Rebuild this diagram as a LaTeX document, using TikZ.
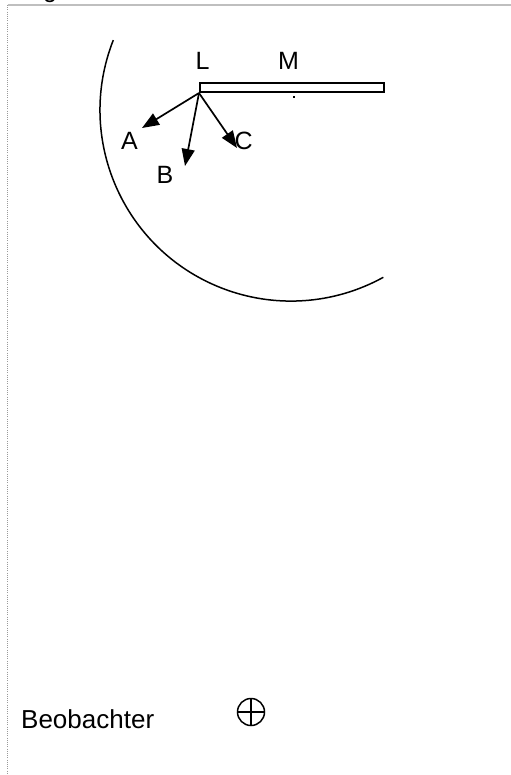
\documentclass[tikz,border=0pt]{standalone}
\usepackage{fontspec}
\setmainfont{Liberation Sans}
\usetikzlibrary{arrows.meta}
\tikzset{
  lbl/.style={inner sep=0pt, anchor=base west, font=\fontsize{25bp}{30bp}\selectfont},
  vec/.style={line width=1.7bp, -{Triangle[length=17bp,width=13bp]}},
  frameline/.style={draw=black!25, line width=1.3bp},
  dotline/.style={draw=black!40, line width=1bp, dash pattern=on 1bp off 1.2bp},
}
\begin{document}
\begin{tikzpicture}[x=1bp,y=-1bp]
\useasboundingbox (0,0) rectangle (511,775);
% frame lines
\coordinate (tl) at (7.5,5);
\coordinate (tr) at (511,5);
\coordinate (bl) at (7.5,775);
\draw[frameline] (tl) -- (tr);
\draw[dotline] (tl) -- (bl);
% cut-off caption
\node[lbl] (fig) at (22,-2.2) {Fig.};
% circle arc
\draw[line width=1.5bp] (113.3,40.1) arc[start angle=201.5, end angle=61.1, radius=191];
% bar
\node[draw, line width=1.8bp, minimum width=184bp, minimum height=9bp, inner sep=0pt, anchor=south west] (bar) at (199,93) {};
\fill (292.5,95.5) rectangle (294.5,97.5);
% labels
\node[lbl] (L) at (195.5,70) {L};
\node[lbl] (M) at (278,70) {M};
\node[lbl] (A) at (121,149) {A};
\node[lbl] (B) at (156.5,183) {B};
\node[lbl] (C) at (234.5,149) {C};
% vectors
\coordinate (tA) at (142,128);
\coordinate (tB) at (185,166);
\coordinate (tC) at (237,148);
\draw[vec] (bar.south west) -- (tA);
\draw[vec] (bar.south west) -- (tB);
\draw[vec] (bar.south west) -- (tC);
% observer
\node[lbl, font=\fontsize{26bp}{31bp}\selectfont] (obs) at (21,728) {Beobachter};
\node[draw, circle, line width=1.5bp, minimum size=27bp, inner sep=0pt] (sym) at (251,712) {};
\draw[line width=1.5bp] (sym.north) -- (sym.south);
\draw[line width=1.5bp] (sym.west) -- (sym.east);
\end{tikzpicture}
\end{document}
